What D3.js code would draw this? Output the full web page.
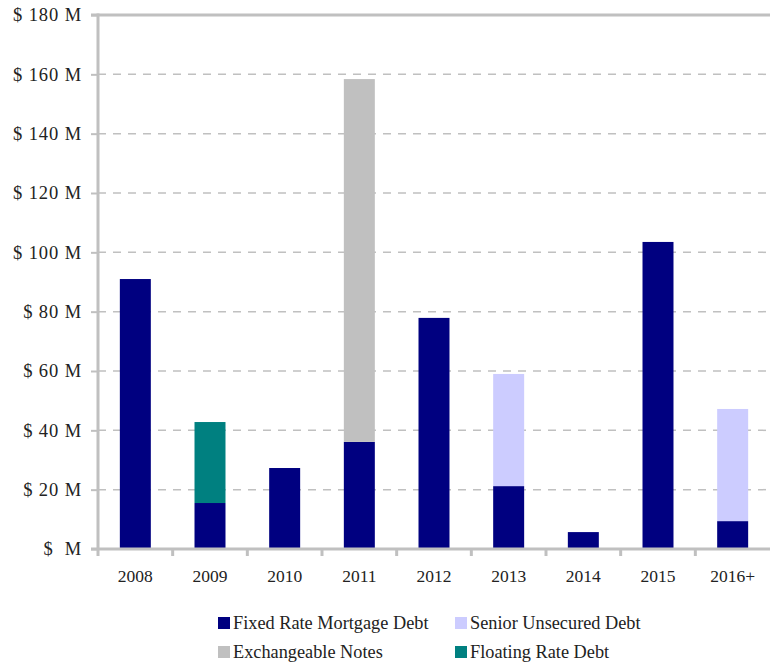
<!DOCTYPE html>
<html>
<head>
<meta charset="utf-8">
<script src="https://cdn.jsdelivr.net/npm/d3@7/dist/d3.min.js"></script>
<style>
  html, body { margin: 0; padding: 0; background: #fff; }
  svg { display: block; font-family: "Liberation Serif", "DejaVu Serif", serif; }
</style>
</head>
<body>
<svg id="chart" width="770" height="665"></svg>
<script>
// Debt maturities by year, $ millions
const years = ["2008", "2009", "2010", "2011", "2012", "2013", "2014", "2015", "2016+"];
const fixedRate     = [91.0, 15.5, 27.3, 36.1, 77.9, 21.2, 5.7, 103.5, 9.4];
const floatingRate  = [0, 27.3, 0, 0, 0, 0, 0, 0, 0];
const exchangeable  = [0, 0, 0, 122.3, 0, 0, 0, 0, 0];
const seniorUnsec   = [0, 0, 0, 0, 0, 37.8, 0, 0, 37.8];
const yTicks = [0, 20, 40, 60, 80, 100, 120, 140, 160, 180];

const seriesKeys   = ["fixed", "floating", "exchangeable", "senior"];
const seriesNames  = {
  fixed: "Fixed Rate Mortgage Debt",
  senior: "Senior Unsecured Debt",
  exchangeable: "Exchangeable Notes",
  floating: "Floating Rate Debt"
};
const colors = { fixed: "#000080", floating: "#008080", exchangeable: "#c0c0c0", senior: "#ccccff" };

const rows = years.map((y, i) => ({
  year: y, fixed: fixedRate[i], floating: floatingRate[i],
  exchangeable: exchangeable[i], senior: seniorUnsec[i]
}));

const svg = d3.select("#chart");
const plotLeft = 98, plotRight = 770, plotTop = 15, plotBottom = 549;
const axisColor = "#c0c0c0";

const x = d3.scaleBand().domain(years).range([plotLeft, plotRight])
  .paddingInner(0.585).paddingOuter(0.2925);
const y = d3.scaleLinear().domain([0, 180]).range([plotBottom, plotTop]);
const gap = (x.step() - x.bandwidth()) / 2;

// dashed gridlines
svg.append("g").selectAll("line")
  .data(yTicks.filter(t => t > 0 && t < 180))
  .join("line")
  .attr("x1", plotLeft).attr("x2", plotRight)
  .attr("y1", d => y(d)).attr("y2", d => y(d))
  .attr("stroke", axisColor).attr("stroke-width", 1.5)
  .attr("stroke-dasharray", "8,7");

// stacked bars
const stacked = d3.stack().keys(seriesKeys)(rows);
svg.append("g").selectAll("g")
  .data(stacked)
  .join("g")
  .attr("fill", d => colors[d.key])
  .selectAll("rect")
  .data(d => d.filter(s => s[1] - s[0] > 0))
  .join("rect")
  .attr("x", d => x(d.data.year))
  .attr("width", x.bandwidth())
  .attr("y", d => y(d[1]))
  .attr("height", d => y(d[0]) - y(d[1]));

// top frame line
svg.append("line")
  .attr("x1", plotLeft - 7).attr("x2", plotRight)
  .attr("y1", y(180)).attr("y2", y(180))
  .attr("stroke", axisColor).attr("stroke-width", 3);

// y axis
const yAxis = d3.axisLeft(y).tickValues(yTicks).tickSize(7).tickPadding(9)
  .tickFormat(d => d === 0 ? "$\u00a0\u00a0M" : "$ " + d + " M");
const gy = svg.append("g").attr("transform", `translate(${plotLeft},0)`).call(yAxis);
gy.select(".domain").remove();
gy.selectAll(".tick line").attr("stroke", axisColor).attr("stroke-width", 2);
gy.selectAll(".tick text")
  .attr("fill", "#222").style("font-size", "18.5px")
  .style("letter-spacing", "0.9px")
  .style("font-family", "'Liberation Serif', serif");
svg.append("line")
  .attr("x1", plotLeft).attr("x2", plotLeft)
  .attr("y1", plotTop - 1.5).attr("y2", plotBottom + 7)
  .attr("stroke", axisColor).attr("stroke-width", 3);

// x axis: ticks at category boundaries
svg.append("line")
  .attr("x1", plotLeft - 7).attr("x2", plotRight)
  .attr("y1", plotBottom).attr("y2", plotBottom)
  .attr("stroke", axisColor).attr("stroke-width", 3);
svg.append("g").selectAll("line")
  .data(years.slice(1))
  .join("line")
  .attr("x1", d => x(d) - gap)
  .attr("x2", d => x(d) - gap)
  .attr("y1", plotBottom).attr("y2", plotBottom + 7)
  .attr("stroke", axisColor).attr("stroke-width", 3);
svg.append("g").selectAll("text")
  .data(years)
  .join("text")
  .attr("x", d => x(d) + x.bandwidth() / 2)
  .attr("y", 582)
  .attr("text-anchor", "middle")
  .attr("fill", "#222")
  .style("font-size", "17.5px")
  .text(d => d);

// legend
const legendItems = [
  { key: "fixed", x: 218, y: 617 },
  { key: "senior", x: 455, y: 617 },
  { key: "exchangeable", x: 218, y: 646 },
  { key: "floating", x: 455, y: 646 }
];
const lg = svg.append("g").selectAll("g").data(legendItems).join("g")
  .attr("transform", d => `translate(${d.x},${d.y})`);
lg.append("rect").attr("width", 12).attr("height", 12).attr("fill", d => colors[d.key]);
lg.append("text").attr("x", 15).attr("y", 12)
  .attr("fill", "#222").style("font-size", "18.3px")
  .text(d => seriesNames[d.key]);
</script>
</body>
</html>
